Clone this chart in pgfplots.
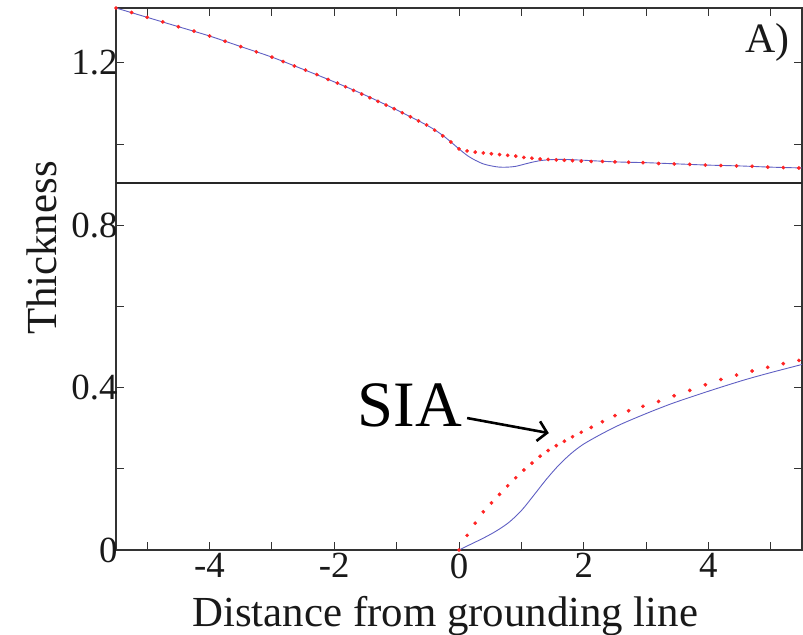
\documentclass[border=0pt]{standalone}
\usepackage{fontspec}
\setmainfont{Liberation Serif}
\usepackage{pgfplots}
\pgfplotsset{compat=1.18}
\usetikzlibrary{arrows.meta}
\definecolor{blueline}{RGB}{95,95,195}
\definecolor{reddot}{RGB}{255,35,35}
\begin{document}
\begin{tikzpicture}
\begin{axis}[
  name=ax,
  scale only axis, width=686bp, height=542bp,
  xmin=-5.5, xmax=5.5, ymin=0, ymax=1.335,
  xtick={-4,-2,0,2,4}, xticklabels={-4,-2,0,2,4},
  minor xtick={-5,-3,-1,1,3,5},
  ytick={0,0.4,0.8,1.2}, yticklabels={0,0.4,0.8,1.2},
  minor ytick={0.2,0.6,1.0},
  major tick length=8bp, minor tick length=8bp,
  tick style={line width=1pt, black!80},
  axis line style={line width=1.2pt, black!80},
  ticklabel style={font=\fontsize{37}{40}\selectfont, text=black!90},
  yticklabel style={xshift=5bp},
  xlabel={Distance from grounding line},
  ylabel={Thickness},
  label style={font=\fontsize{43}{46}\selectfont, text=black!90},
  xlabel style={at={(axis description cs:0.48,-0.142)}, anchor=base},
  ylabel style={at={(axis description cs:-0.108,0.557)}, anchor=center},
  redmk/.style={color=reddot, only marks, mark=*, mark size=1.7pt, mark options={fill=reddot, draw=reddot, line width=0.4pt}},
]
% grounding line horizontal
\addplot[black!85, line width=1.3pt] coordinates {(-5.5,0.904) (5.5,0.904)};
% upper blue
\addplot[blueline, line width=0.9pt, smooth] coordinates {
(-5.5,1.335) (-5.0,1.312) (-4.5,1.289) (-4.0,1.266) (-3.5,1.240) (-3.0,1.214)
(-2.5,1.184) (-2.0,1.153) (-1.5,1.120) (-1.0,1.084) (-0.5,1.045) (-0.25,1.020)
(0,0.988) (0.13,0.972) (0.26,0.960) (0.39,0.951) (0.52,0.946) (0.65,0.943)
(0.78,0.943) (0.91,0.945) (1.04,0.950) (1.17,0.955) (1.30,0.959) (1.43,0.961)
(1.56,0.962) (1.7,0.962) (2.0,0.960) (2.5,0.956) (3.0,0.954) (3.5,0.951)
(4.0,0.948) (4.5,0.946) (5.0,0.943) (5.5,0.941)};
% upper red
\addplot[redmk] coordinates {
(-5.5,1.335) (-5.25,1.324) (-5.0,1.312) (-4.75,1.301) (-4.5,1.289) (-4.25,1.278)
(-4.0,1.266) (-3.75,1.253) (-3.5,1.240) (-3.25,1.227) (-3.0,1.214) (-2.82,1.203)
(-2.64,1.192) (-2.46,1.182) (-2.28,1.171) (-2.1,1.159) (-1.95,1.150) (-1.82,1.141)
(-1.69,1.132) (-1.56,1.123) (-1.43,1.114) (-1.30,1.105) (-1.17,1.096) (-1.04,1.087)
(-0.91,1.077) (-0.78,1.067) (-0.65,1.057) (-0.52,1.047) (-0.39,1.034) (-0.26,1.020)
(-0.13,1.005) (0,0.988) (0.13,0.983) (0.26,0.980) (0.39,0.978) (0.52,0.976)
(0.65,0.974) (0.78,0.972) (0.91,0.970) (1.04,0.967) (1.17,0.965) (1.30,0.963)
(1.43,0.962) (1.56,0.961) (1.69,0.960) (1.82,0.959) (1.96,0.958) (2.12,0.957)
(2.3,0.957) (2.5,0.956) (2.72,0.955) (2.95,0.954) (3.2,0.952) (3.45,0.951)
(3.7,0.950) (3.95,0.948) (4.2,0.947) (4.45,0.946) (4.7,0.945) (4.95,0.943)
(5.2,0.942) (5.45,0.941)};
% lower blue
\addplot[blueline, line width=0.9pt, smooth] coordinates {
(0,0) (0.2,0.015) (0.4,0.030) (0.6,0.047) (0.8,0.068) (1.0,0.097) (1.2,0.135)
(1.4,0.174) (1.6,0.209) (1.8,0.238) (2.0,0.261) (2.3,0.287) (2.6,0.310)
(3.0,0.336) (3.4,0.360) (3.8,0.381) (4.2,0.401) (4.6,0.420) (5.0,0.437) (5.5,0.457)};
% lower red
\addplot[redmk] coordinates {
(0,0) (0.13,0.036) (0.26,0.066) (0.39,0.094) (0.52,0.116) (0.65,0.137)
(0.78,0.158) (0.91,0.178) (1.04,0.197) (1.17,0.214) (1.30,0.231) (1.43,0.245)
(1.56,0.257) (1.69,0.268) (1.82,0.279) (1.96,0.290) (2.12,0.302) (2.3,0.316)
(2.5,0.331) (2.72,0.343) (2.95,0.354) (3.2,0.366) (3.45,0.380) (3.7,0.393)
(3.95,0.407) (4.2,0.420) (4.45,0.431) (4.7,0.441) (4.95,0.450) (5.2,0.459)
(5.45,0.467)};
% annotations
\node[font=\fontsize{65}{70}\selectfont, anchor=center, inner sep=0pt] at (axis cs:-0.785,0.355) {SIA};
\draw[line width=2.6pt, -{Straight Barb[length=9pt,width=20pt,line width=2.6pt]}] (axis cs:0.13,0.325) -- (axis cs:1.44,0.288);
\node[font=\fontsize{42}{46}\selectfont, text=black!90, anchor=center, inner sep=0pt] at (axis cs:4.94,1.249) {A)};
\end{axis}
\pgfresetboundingbox
\path[use as bounding box] ([shift={(-116bp,-85bp)}]ax.south west) rectangle ([shift={(1bp,8bp)}]ax.north east);
\end{tikzpicture}
\end{document}
